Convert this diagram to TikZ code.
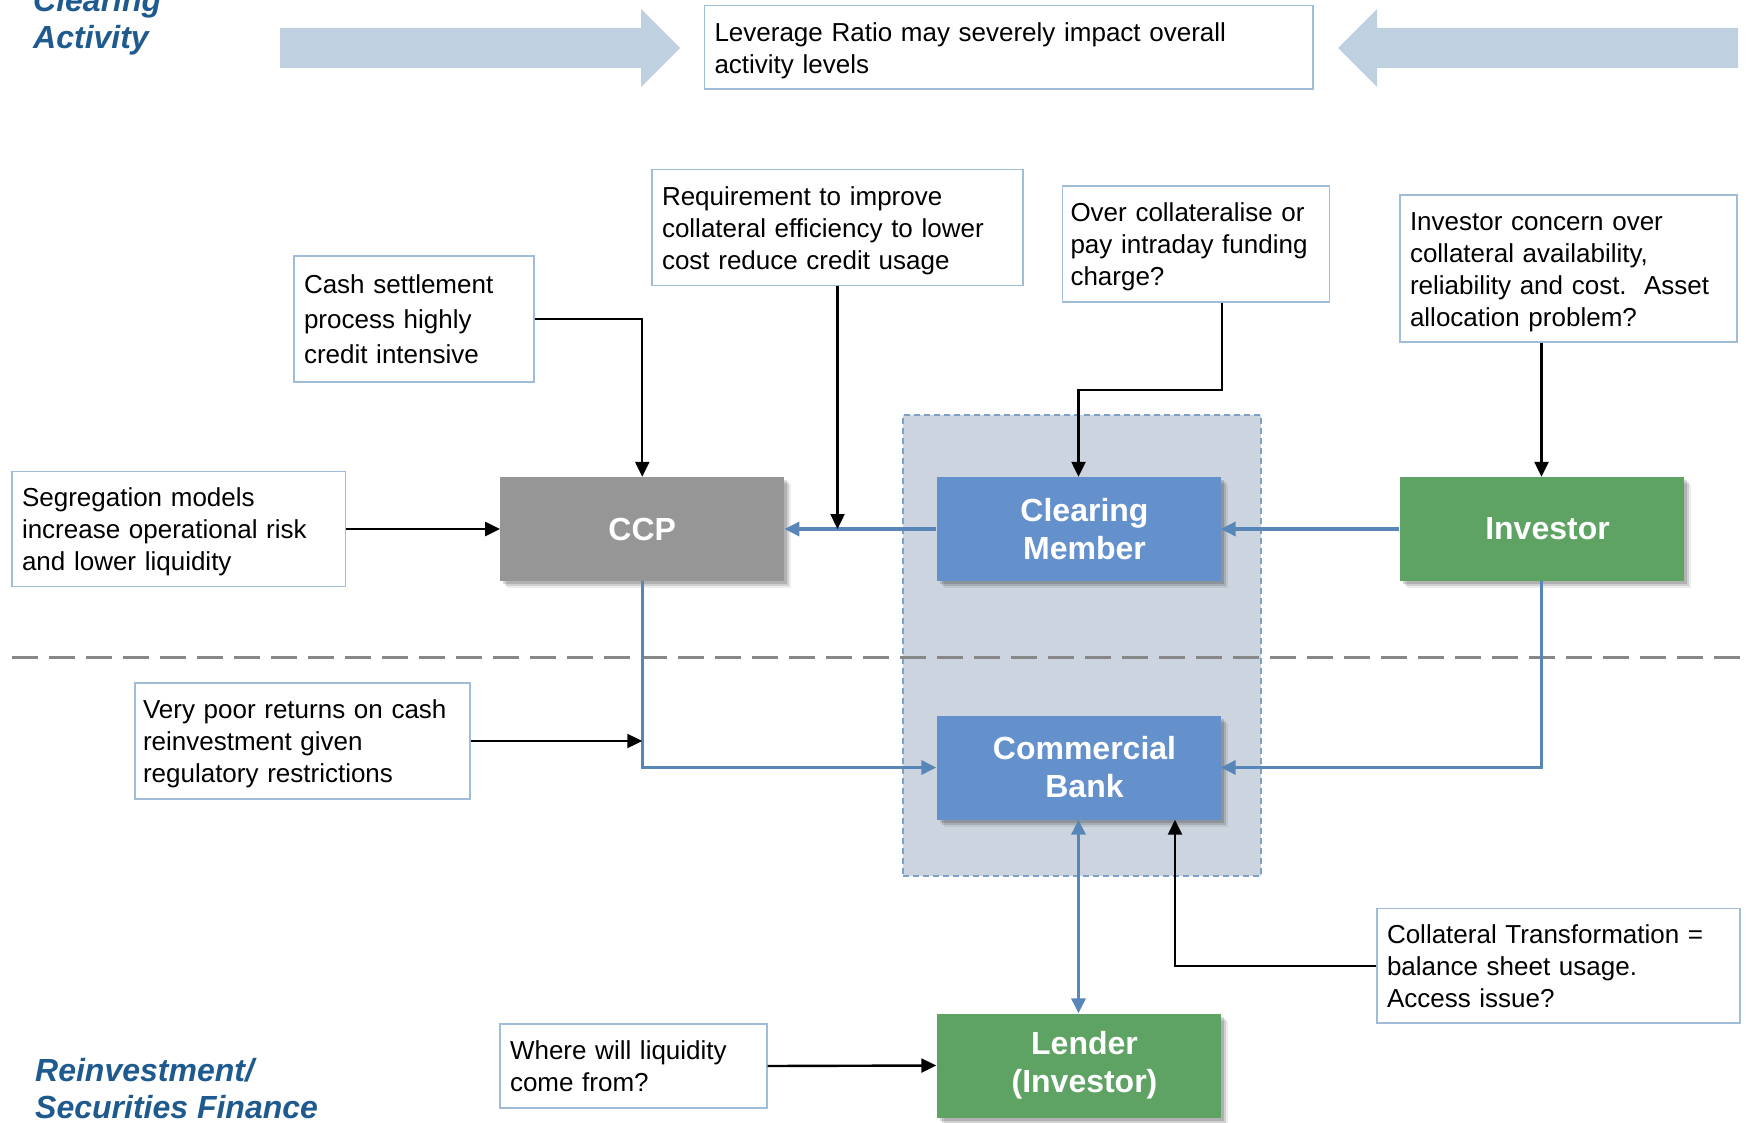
\documentclass[tikz,border=0pt]{standalone}
\usepackage{fontspec}
\setmainfont{Liberation Sans}
\usetikzlibrary{arrows.meta,shadows,calc}

\definecolor{titleblue}{RGB}{31,90,143}
\definecolor{bigarrow}{RGB}{191,208,224}
\definecolor{notebd}{RGB}{160,188,216}
\definecolor{ccpgray}{RGB}{150,150,150}
\definecolor{memblue}{RGB}{100,145,204}
\definecolor{invgreen}{RGB}{94,163,100}
\definecolor{flowc}{RGB}{88,134,184}
\definecolor{zonefill}{RGB}{204,213,223}
\definecolor{zonebd}{RGB}{126,160,199}
\definecolor{sepgray}{RGB}{135,135,135}

\newcommand\notefont{\fontsize{26}{32}\selectfont}
\newcommand\actorfont{\fontsize{32}{38}\selectfont\bfseries}
\newcommand\headfont{\fontsize{32}{38}\selectfont\bfseries\itshape}
% small lead-in that nudges a centred line to the right
\newcommand\nudge{\hspace*{12pt}}
% fixed first-line height so notes ending in descenders sit like the others
\newcommand\topline{\rule{0pt}{25pt}}

\tikzset{
  note/.style={draw=notebd, line width=1.3pt, fill=white, inner xsep=10pt,
    inner ysep=0pt, align=left, font=\notefont},
  actor/.style={minimum width=284pt, minimum height=104pt, inner sep=0pt,
    text=white, font=\actorfont, align=center,
    drop shadow={shadow xshift=7pt, shadow yshift=-7pt, fill=black, opacity=0.07},
    drop shadow={shadow xshift=5pt, shadow yshift=-5pt, fill=black, opacity=0.12},
    drop shadow={shadow xshift=3pt, shadow yshift=-3pt, fill=black, opacity=0.15}},
  flow/.style={line width=3.4pt, draw=flowc, -{Triangle[length=15pt,width=14pt]}},
  callout/.style={line width=2.4pt, draw=black, -{Triangle[length=15pt,width=14pt]}},
  heading/.style={text=titleblue, font=\headfont, inner sep=0pt, anchor=base west},
}

\begin{document}
\begin{tikzpicture}[x=1pt,y=-1pt]
\useasboundingbox (0,0) rectangle (1748,1123);

% shaded zone holding the bank entities
\node[draw=zonebd, fill=zonefill, line width=1.5pt, dash pattern=on 6pt off 4pt,
      minimum width=358pt, minimum height=461pt, inner sep=0pt] (zone) at (1082,645.5) {};

% section headings
\node[heading] (h1a) at (33,12) {Clearing};
\node[heading] (h1b) at (33,49) {Activity};
\node[heading] (h2a) at (35,1081) {Reinvestment/};
\node[heading] (h2b) at (35,1118) {Securities Finance};

% broad arrows pressing on the leverage note
\fill[bigarrow] (280,28) -- (641,28) -- (641,9) -- (680,48) -- (641,87) -- (641,68) -- (280,68) -- cycle;
\fill[bigarrow] (1738,28) -- (1377,28) -- (1377,9) -- (1338,48) -- (1377,87) -- (1377,68) -- (1738,68) -- cycle;

% separator between clearing and financing layers
\draw[sepgray, line width=3pt, dash pattern=on 26pt off 11pt] (12,657) -- (1740,657);

% entities
\node[actor, fill=ccpgray] (ccp) at (642.25,529) {CCP};
\node[actor, fill=memblue] (cm) at (1078.5,529) {\nudge Clearing\\\nudge Member};
\node[actor, fill=invgreen] (inv) at (1541.5,529) {\nudge Investor};
\node[actor, fill=memblue] (cb) at (1078.5,767.5) {\nudge Commercial\\\nudge Bank};
\node[actor, fill=invgreen] (lender) at (1078.5,1065.5) {\nudge Lender\\\nudge (Investor)};

% notes
\node[note, text width=588.5pt, minimum height=83.4pt] (lev) at (1008.75,47.3)
  {\topline Leverage Ratio may severely impact overall\\activity levels};
\node[note, text width=351pt, minimum height=116pt] (req) at (837.5,227.5)
  {\topline Requirement to improve\\collateral efficiency to lower\\cost reduce credit usage};
\node[note, inner xsep=8pt, text width=251pt, minimum height=116pt] (over) at (1196,244)
  {\topline Over collateralise or\\pay intraday funding\\charge?};
\node[note, text width=317pt, minimum height=147pt] (concern) at (1568.5,268.5)
  {\topline Investor concern over\\collateral availability,\\reliability and cost.~~Asset\\allocation problem?};
\node[note, text width=220pt, minimum height=126pt, font=\fontsize{26}{35}\selectfont] (cash) at (414,319)
  {Cash settlement\\process highly\\credit intensive};
\node[note, text width=313.6pt, minimum height=114.5pt] (seg) at (178.8,529)
  {\topline Segregation models\\increase operational risk\\and lower liquidity};
\node[note, inner xsep=8pt, text width=319pt, minimum height=116pt] (poor) at (302.5,741)
  {\topline Very poor returns on cash\\reinvestment given\\regulatory restrictions};
\node[note, text width=343pt, minimum height=114.4pt] (coll) at (1558.5,965.8)
  {Collateral Transformation =\\balance sheet usage.\\Access issue?};
\node[note, text width=247pt, minimum height=84pt] (where) at (633.5,1066)
  {Where will liquidity\\come from?};

% flows between entities
\draw[flow] (cm.west) -- (ccp.east);
\draw[flow] (inv.west) -- (cm.east);
\draw[flow] (ccp.south) |- (cb.west);
\draw[flow] (inv.south) |- (cb.east);
\draw[flow, {Triangle[length=15pt,width=14pt]}-{Triangle[length=15pt,width=14pt]}] (cb.south) -- (lender.north);

% callouts from notes
\coordinate (overbend) at (1222,390);
\draw[callout] (cash.east) -| (ccp.north);
\draw[callout] (req.south) -- (req.south |- ccp.east);
\draw[callout] ([xshift=26pt]over.south) -- (overbend) -| (cm.north);
\draw[callout] (inv.north |- concern.south) -- (inv.north);
\draw[callout] (seg.east) -- (seg.east -| ccp.west);
\draw[callout] (poor.east) -- (poor.east -| ccp.south);
\draw[callout] (coll.west) -| ([xshift=96.5pt]cb.south);
\draw[callout] (where.east) -- (lender.west);
\end{tikzpicture}
\end{document}
